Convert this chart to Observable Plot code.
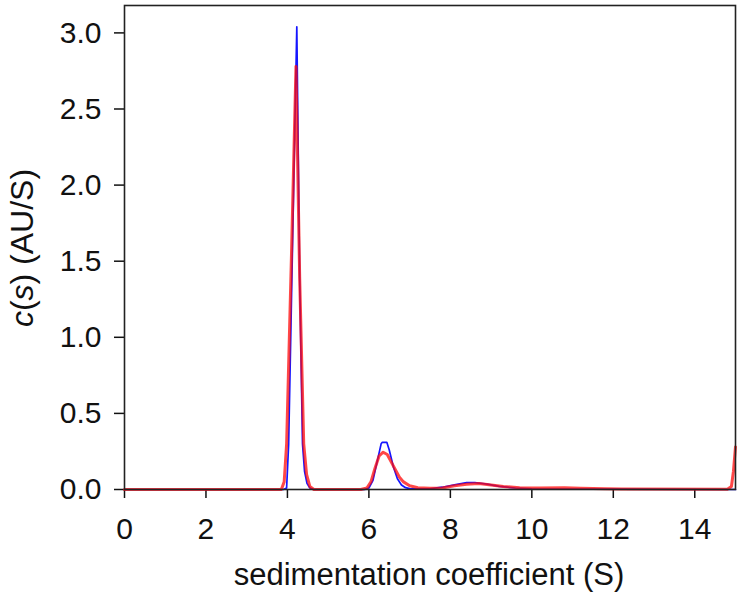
<!DOCTYPE html>
<html><head><meta charset="utf-8">
<script src="https://cdn.jsdelivr.net/npm/d3@7"></script>
<script src="https://cdn.jsdelivr.net/npm/@observablehq/plot@0.6"></script>
<style>body{margin:0;background:#fff}</style>
</head><body><div id="chart"></div>
<script>
// sedimentation coefficient (S) and c(s) (AU/S) — blue series
const blueS = [0, 3.9, 3.98, 4.03, 4.13, 4.23, 4.3, 4.37, 4.42, 4.48, 4.55, 4.65, 5.9, 6.0, 6.1, 6.2, 6.3, 6.33, 6.44, 6.5, 6.6, 6.7, 6.8, 6.9, 7.0, 7.5, 7.8, 8.1, 8.4, 8.6, 8.9, 9.2, 9.6, 10.0, 12.0, 15.0];
const blueC = [0, 0, 0.01, 0.3, 1.67, 3.04, 1.4, 0.3, 0.12, 0.04, 0.01, 0, 0, 0.01, 0.06, 0.18, 0.3, 0.31, 0.31, 0.26, 0.15, 0.07, 0.03, 0.012, 0.006, 0.005, 0.015, 0.03, 0.045, 0.045, 0.035, 0.02, 0.01, 0.005, 0.002, 0];
// red series
const redS = [0, 3.85, 3.92, 3.98, 4.1, 4.21, 4.3, 4.4, 4.47, 4.55, 4.65, 5.8, 5.95, 6.05, 6.15, 6.25, 6.35, 6.45, 6.55, 6.65, 6.75, 6.85, 7.0, 7.2, 7.5, 7.8, 8.1, 8.4, 8.7, 9.0, 9.3, 9.7, 10.2, 10.8, 11.2, 11.8, 12.2, 14.8, 14.9, 14.95, 15.0];
const redC = [0, 0, 0.05, 0.3, 1.55, 2.78, 1.4, 0.3, 0.1, 0.02, 0, 0, 0.01, 0.05, 0.14, 0.22, 0.245, 0.23, 0.18, 0.13, 0.08, 0.05, 0.025, 0.012, 0.008, 0.01, 0.025, 0.035, 0.04, 0.03, 0.02, 0.012, 0.01, 0.012, 0.008, 0.005, 0.003, 0.002, 0.02, 0.12, 0.28];
const xTicks = [0, 2, 4, 6, 8, 10, 12, 14];
const yTicks = [0, 0.5, 1.0, 1.5, 2.0, 2.5, 3.0];

const blue = blueS.map((s, i) => ({s, c: blueC[i]}));
const red = redS.map((s, i) => ({s, c: redC[i]}));

const font = "'Liberation Sans', Arial, Helvetica, sans-serif";
const chart = Plot.plot({
  width: 740, height: 595,
  marginLeft: 124, marginRight: 5, marginTop: 5, marginBottom: 106,
  style: {fontFamily: font, fontSize: "30px", background: "#fff", color: "#111"},
  x: {domain: [0, 15], label: null},
  y: {domain: [0, 3.18], label: null},
  marks: [
    Plot.axisX({ticks: xTicks, tickSize: 9, tickPadding: 19, tickFormat: d => String(d), label: null, fontSize: 30, strokeWidth: 1.5}),
    Plot.axisY({ticks: yTicks, tickSize: 10, tickPadding: 13, tickFormat: d => d.toFixed(1), label: null, fontSize: 30, strokeWidth: 1.5}),
    Plot.line(blue, {x: "s", y: "c", stroke: "#1515ff", strokeWidth: 1.7}),
    Plot.line(red, {x: "s", y: "c", stroke: "#ff0a0a", strokeWidth: 3, strokeOpacity: 0.75}),
    Plot.frame({stroke: "#222", strokeWidth: 1.6})
  ]
});
document.getElementById("chart").appendChild(chart);

const svg = d3.select(chart);
svg.append("text")
  .attr("x", 429).attr("y", 585)
  .attr("text-anchor", "middle")
  .attr("font-family", font).attr("font-size", 31).attr("fill", "#111")
  .text("sedimentation coefficient (S)");
const yl = svg.append("text")
  .attr("transform", "translate(33,248) rotate(-90)")
  .attr("text-anchor", "middle")
  .attr("font-family", font).attr("font-size", 32).attr("fill", "#111");
yl.append("tspan").attr("font-style", "italic").text("c");
yl.append("tspan").text("(");
yl.append("tspan").attr("font-style", "italic").text("s");
yl.append("tspan").text(") (AU/S)");
</script>
</body></html>
